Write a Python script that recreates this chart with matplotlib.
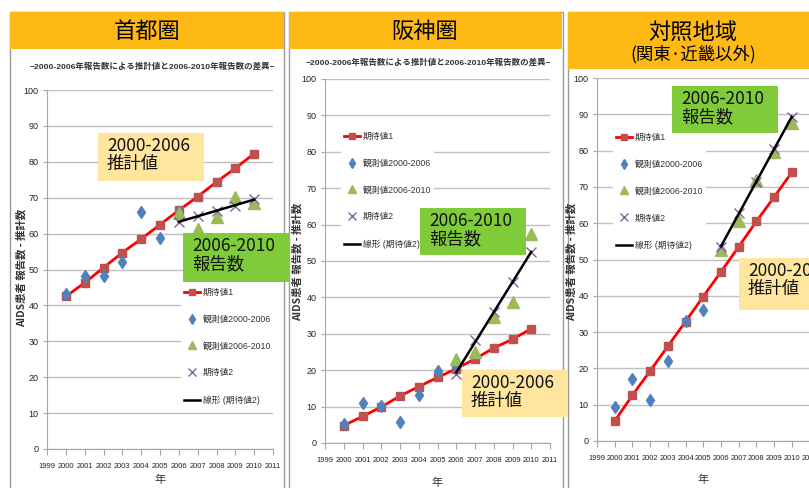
import matplotlib
matplotlib.use('Agg')
import matplotlib.pyplot as plt
from matplotlib.patches import Rectangle
import numpy as np

plt.rcParams['font.family'] = ['Noto Sans CJK JP', 'DejaVu Sans']
LATIN = 'Liberation Sans'

W, H = 809, 488

# ---- data ----
years_exp1 = list(range(2000, 2011))
years_obs1 = list(range(2000, 2007))
years_obs2 = list(range(2006, 2011))
year_ticks = list(range(1999, 2012))

# 首都圏
shuto_exp1 = [42.5, 46.3, 50.5, 54.7, 58.5, 62.5, 66.5, 70.3, 74.4, 78.2, 82.3]
shuto_obs1 = [43.3, 48.2, 48.1, 52.0, 66.0, 58.9, 66.0]
shuto_obs2 = [65.6, 61.4, 64.7, 70.2, 68.6]
shuto_exp2 = [63.3, 64.9, 66.3, 67.8, 69.6]

# 阪神圏
hanshin_exp1 = [4.8, 7.3, 9.9, 12.9, 15.5, 18.0, 20.4, 23.1, 26.1, 28.5, 31.4]
hanshin_obs1 = [5.1, 11.1, 10.1, 5.9, 13.1, 19.9, 21.5]
hanshin_obs2 = [23.1, 25.0, 34.7, 38.8, 57.3]
hanshin_exp2 = [19.0, 28.2, 35.9, 44.2, 52.4]

# 対照地域
taisho_exp1 = [5.5, 12.6, 19.3, 26.1, 32.9, 39.8, 46.6, 53.5, 60.5, 67.2, 74.0]
taisho_obs1 = [9.4, 17.2, 11.3, 22.1, 33.0, 36.0, 52.5]
taisho_obs2 = [52.6, 60.6, 71.8, 79.6, 87.5]
taisho_exp2 = [53.5, 62.8, 71.3, 80.5, 89.3]

labels = ['期待値1', '観測値2000-2006', '観測値2006-2010', '期待値2', '線形 (期待値2)']
subtitle = '−2000-2006年報告数による推計値と2006-2010年報告数の差異−'
ylabel = 'AIDS患者 報告数 - 推計数'

ORANGE = '#FFB914'
GREEN = '#7FCB3A'
PALE = '#FFE59E'
GRID = '#BFBFBF'

fig = plt.figure(figsize=(W / 100, H / 100), dpi=100)
fig.patch.set_facecolor('white')


def px_axes(x0, x1, ytop, ybot):
    return fig.add_axes([x0 / W, 1 - ybot / H, (x1 - x0) / W, (ybot - ytop) / H])


def draw_panel(ax, exp1, obs1, obs2, exp2, leg_xy):
    ax.plot(years_exp1, exp1, color='#FF0000', lw=2, marker='s', ms=6,
            mfc='#C0504D', mec='#C0504D', zorder=3, label=labels[0])
    ax.plot(years_obs1, obs1, ls='none', marker='d', ms=6, color='#4F81BD',
            zorder=4, label=labels[1])
    ax.plot(years_obs2, obs2, ls='none', marker='^', ms=8, color='#9BBB59',
            zorder=4, label=labels[2])
    ax.plot(years_obs2, exp2, ls='none', marker='x', ms=7, mew=1, color='#8064A2',
            zorder=5, label=labels[3])
    # linear trend of 期待値2
    k, b = np.polyfit(years_obs2, exp2, 1)
    tx = np.array([years_obs2[0], years_obs2[-1]])
    ax.plot(tx, k * tx + b, color='black', lw=1.8, zorder=6, label=labels[4])

    ax.set_xlim(1999, 2011)
    ax.set_ylim(0, 100)
    ax.set_xticks(year_ticks)
    ax.set_yticks(range(0, 101, 10))
    ax.grid(axis='y', color=GRID, lw=1)
    ax.set_axisbelow(True)
    for s in ['top', 'right']:
        ax.spines[s].set_visible(False)
    for s in ['left', 'bottom']:
        ax.spines[s].set_color('#A6A6A6')
    ax.tick_params(axis='x', length=4, pad=6, colors='#A6A6A6', labelcolor='#222222',
                   labelsize=5.4)
    ax.tick_params(axis='y', length=3, pad=3, colors='#A6A6A6', labelcolor='#222222',
                   labelsize=6.5)
    for lbl in ax.get_xticklabels() + ax.get_yticklabels():
        lbl.set_fontfamily(LATIN)
    ax.patch.set_alpha(0)

    leg = ax.legend(loc='upper left', bbox_to_anchor=(leg_xy[0] / W, 1 - leg_xy[1] / H),
                    bbox_transform=fig.transFigure, frameon=True, fancybox=False,
                    edgecolor='none', facecolor='white', framealpha=1,
                    prop={'family': [LATIN, 'Noto Sans CJK JP'], 'size': 6.3},
                    labelspacing=2.05, handlelength=1.9, handletextpad=0.3,
                    borderpad=0.3, borderaxespad=0, markerscale=0.8)
    leg.set_zorder(8)
    for t in leg.get_texts():
        t.set_color('#333333')


# background: panel frames
bg = fig.add_axes([0, 0, 1, 1], zorder=-1)
bg.set_xlim(0, W)
bg.set_ylim(H, 0)
bg.axis('off')
for x0, x1 in [(10, 284), (289, 563), (568, 812)]:
    bg.add_patch(Rectangle((x0, 12), x1 - x0, H, facecolor='white', edgecolor='#9A9A9A', lw=1))

ax1 = px_axes(47, 273, 90, 449)
draw_panel(ax1, shuto_exp1, shuto_obs1, shuto_obs2, shuto_exp2, (181, 285))
ax2 = px_axes(325, 550, 79, 443)
draw_panel(ax2, hanshin_exp1, hanshin_obs1, hanshin_obs2, hanshin_exp2, (341, 129))
ax3 = px_axes(597, 809.5, 78, 441)
draw_panel(ax3, taisho_exp1, taisho_obs1, taisho_obs2, taisho_exp2, (613, 130))

# overlay: headers, titles, annotation boxes
ov = fig.add_axes([0, 0, 1, 1], zorder=10)
ov.set_xlim(0, W)
ov.set_ylim(H, 0)
ov.axis('off')

ov.add_patch(Rectangle((10, 12), 274, 37, facecolor=ORANGE, edgecolor='none'))
ov.add_patch(Rectangle((289, 12), 273, 37, facecolor=ORANGE, edgecolor='none'))
ov.add_patch(Rectangle((568, 12), 245, 57, facecolor=ORANGE, edgecolor='none'))
ov.text(147, 31, '首都圏', ha='center', va='center', fontsize=16)
ov.text(425, 31, '阪神圏', ha='center', va='center', fontsize=16)
ov.text(693, 32, '対照地域', ha='center', va='center', fontsize=16)
ov.text(693, 54, '(関東·近畿以外)', ha='center', va='center', fontsize=12.5)

ov.text(152, 67, subtitle, ha='center', va='center', fontsize=6.1,
        family=[LATIN, 'Noto Sans CJK JP'], weight='bold', color='#333333')
ov.text(428, 63, subtitle, ha='center', va='center', fontsize=6.1,
        family=[LATIN, 'Noto Sans CJK JP'], weight='bold', color='#333333')

for x, y in [(21, 268), (297, 262), (571, 262)]:
    ov.text(x, y, ylabel, rotation=90, ha='center', va='center', fontsize=7.5,
            weight='bold', color='#333333')
for x, y in [(160, 480), (437, 483), (703, 480)]:
    ov.text(x, y, '年', ha='center', va='center', fontsize=8, color='#333333')


def note(x0, y0, x1, y1, color, text):
    ov.add_patch(Rectangle((x0, y0), x1 - x0, y1 - y0, facecolor=color, edgecolor='none'))
    ov.text(x0 + 9, y0 + 4, text, ha='left', va='top', fontsize=12.5,
            linespacing=1.0, color='#111111')


note(98, 133, 204, 181, PALE, '2000-2006\n推計値')
note(183, 233, 290, 282, GREEN, '2006-2010\n報告数')
note(420, 208, 526, 255, GREEN, '2006-2010\n報告数')
note(462, 370, 568, 417, PALE, '2000-2006\n推計値')
note(672, 86, 778, 133, GREEN, '2006-2010\n報告数')
note(739, 258, 820, 310, PALE, '2000-2006\n推計値')

fig.savefig('out.png', dpi=100, facecolor='white')
